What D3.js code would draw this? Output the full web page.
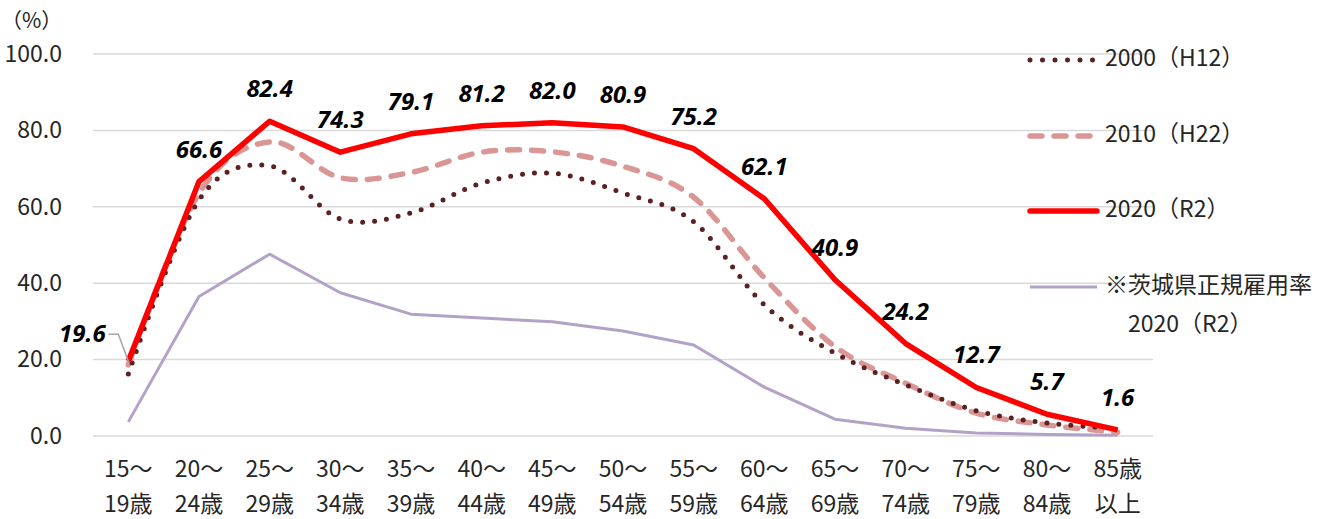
<!DOCTYPE html>
<html><head><meta charset="utf-8">
<script src="https://cdn.jsdelivr.net/npm/d3@7"></script>
<style>
html,body{margin:0;padding:0;background:#fff;}
svg{display:block;}
text{font-family:"Noto Sans CJK JP","Noto Sans",sans-serif;fill:#262626;}
.lbl{font-family:"Noto Sans","Noto Sans CJK JP",sans-serif;font-weight:bold;font-style:italic;fill:#000;}
</style></head>
<body><svg id="c" width="1337" height="519"></svg>
<script>
const categoriesTop = ["15～","20～","25～","30～","35～","40～","45～","50～","55～","60～","65～","70～","75～","80～","85歳"];
const categoriesBottom = ["19歳","24歳","29歳","34歳","39歳","44歳","49歳","54歳","59歳","64歳","69歳","74歳","79歳","84歳","以上"];
const s2000 = [16.2,61.8,70.7,56.8,58.4,66.2,68.8,63.6,56.1,34.3,21.7,13.4,6.6,3.4,2.0];
const s2010 = [18.6,63.5,77.0,67.6,69.0,74.3,74.4,70.6,62.5,41.4,23.4,13.8,6.0,2.9,1.0];
const s2020 = [19.6,66.6,82.4,74.3,79.1,81.2,82.0,80.9,75.2,62.1,40.9,24.2,12.7,5.7,1.6];
const sRegular = [3.7,36.5,47.6,37.5,31.9,30.9,29.9,27.5,23.8,12.8,4.4,2.0,0.8,0.4,0.2];
const yTicks = [0,20,40,60,80,100];
const legendLabels = ["2000（H12）","2010（H22）","2020（R2）","※茨城県正規雇用率"];
const legendLabel2 = "2020（R2）";

const svg = d3.select("#c");
const x = d3.scaleBand().domain(d3.range(categoriesTop.length)).range([93,1153]);
const cx = i => x(i) + x.bandwidth()/2;
const y = d3.scaleLinear().domain([0,100]).range([436,54]);

// gridlines
svg.append("g").selectAll("line").data(yTicks).join("line")
  .attr("x1",93).attr("x2",1153).attr("y1",d=>y(d)).attr("y2",d=>y(d))
  .attr("stroke","#d9d9d9").attr("stroke-width",1.5);

// y axis labels
const yAxis = d3.axisLeft(y).tickValues(yTicks).tickFormat(d3.format(".1f")).tickSize(0).tickPadding(0);
const ga = svg.append("g").attr("transform","translate(62,0)").call(yAxis);
ga.select(".domain").remove();
ga.selectAll("text").attr("font-size",23).attr("fill","#262626")
  .attr("font-family","'Noto Sans CJK JP',sans-serif");

svg.append("text").attr("x",1).attr("y",28).attr("font-size",21).text("（%）");

// x axis labels
const xa = svg.append("g");
xa.selectAll("text.t").data(categoriesTop).join("text").attr("class","t")
  .attr("x",(d,i)=>cx(i)).attr("y",477).attr("text-anchor","middle").attr("font-size",23).text(d=>d);
xa.selectAll("text.b").data(categoriesBottom).join("text").attr("class","b")
  .attr("x",(d,i)=>cx(i)).attr("y",512).attr("text-anchor","middle").attr("font-size",23).text(d=>d);

const straight = d3.line().x((d,i)=>cx(i)).y(d=>y(d));
const smooth = d3.line().x((d,i)=>cx(i)).y(d=>y(d)).curve(d3.curveCardinal.tension(0));

svg.append("path").attr("d",straight(sRegular)).attr("fill","none")
  .attr("stroke","#b3a2c7").attr("stroke-width",3).attr("stroke-linejoin","round");
svg.append("path").attr("d",smooth(s2010)).attr("fill","none")
  .attr("stroke","#d99694").attr("stroke-width",5.5).attr("stroke-dasharray","12,12").attr("stroke-linecap","round");
svg.append("path").attr("d",smooth(s2000)).attr("fill","none")
  .attr("stroke","#5b2020").attr("stroke-width",5).attr("stroke-dasharray","0,12").attr("stroke-linecap","round");
svg.append("path").attr("d",straight(s2020)).attr("fill","none")
  .attr("stroke","#ff0000").attr("stroke-width",5.5).attr("stroke-linejoin","round");

// data labels
const lbl = svg.append("g");
lbl.selectAll("text").data(s2020).join("text").attr("class","lbl")
  .attr("x",(d,i)=> i===0 ? cx(i)-46 : cx(i))
  .attr("y",(d,i)=> i===0 ? 342 : y(d)-24)
  .attr("text-anchor","middle").attr("font-size",24)
  .text(d=>d3.format(".1f")(d));
svg.append("polyline")
  .attr("points",`${cx(0)-20},${y(19.6)-27} ${cx(0)-10},${y(19.6)-27} ${cx(0)},${y(s2020[0])}`)
  .attr("fill","none").attr("stroke","#a6a6a6").attr("stroke-width",1.5);

// legend
const lg = svg.append("g");
const ly = [60,136,211,287];
const styles = [
  {c:"#5b2020",w:5,da:"0,12.5",cap:"round"},
  {c:"#d99694",w:5.5,da:"12,12",cap:"round"},
  {c:"#ff0000",w:5.5,da:null,cap:"round"},
  {c:"#b3a2c7",w:3,da:null,cap:"butt"}
];
legendLabels.forEach((t,i)=>{
  const st = styles[i];
  const ln = lg.append("line").attr("x1",1030).attr("x2",i===1?1096:1097).attr("y1",ly[i]).attr("y2",ly[i])
    .attr("stroke",st.c).attr("stroke-width",st.w).attr("stroke-linecap",st.cap);
  if(st.da) ln.attr("stroke-dasharray",st.da);
  lg.append("text").attr("x",1105).attr("y",ly[i]+6).attr("font-size",23).text(t);
});
lg.append("text").attr("x",1128).attr("y",332).attr("font-size",23).text(legendLabel2);
</script></body></html>
